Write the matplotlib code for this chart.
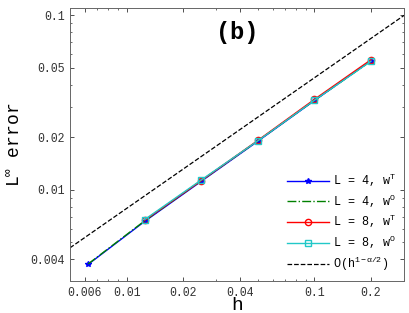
import matplotlib
matplotlib.use("Agg")
import matplotlib.pyplot as plt
from matplotlib.ticker import LogLocator, FixedLocator, FixedFormatter, NullFormatter

# mesh sizes and errors
h4 = [0.00625, 0.0125, 0.025, 0.05, 0.1, 0.2]
err4T = [0.00374, 0.0066, 0.0112, 0.0190, 0.0325, 0.0550]
err4O = [0.00376, 0.00665, 0.0113, 0.0191, 0.0326, 0.0548]
h8 = [0.0125, 0.025, 0.05, 0.1, 0.2]
err8T = [0.0067, 0.0113, 0.0192, 0.0330, 0.0557]
err8O = [0.00676, 0.0114, 0.0191, 0.0326, 0.0546]
ref_h = [0.005, 0.3]
ref_err = [0.00465, 0.1]

xticks = [0.006, 0.01, 0.02, 0.04, 0.1, 0.2]
xticklabels = ["0.006", "0.01", "0.02", "0.04", "0.1", "0.2"]
yticks = [0.004, 0.01, 0.02, 0.05, 0.1]
yticklabels = ["0.004", "0.01", "0.02", "0.05", "0.1"]

mono = "Liberation Mono"
plt.rcParams["mathtext.fontset"] = "custom"
plt.rcParams["mathtext.rm"] = mono
plt.rcParams["mathtext.it"] = mono
plt.rcParams["mathtext.bf"] = mono + ":bold"

fig = plt.figure(figsize=(4.09, 3.13), dpi=100)
ax = fig.add_axes([0.171, 0.102, 0.817, 0.872])

ax.loglog(h4, err4T, color="blue", marker="*", markersize=4, lw=1, label=r"L = 4, w$^{\mathrm{T}}$")
ax.loglog(h4, err4O, color="green", ls="-.", lw=1, label=r"L = 4, w$^{\mathrm{O}}$")
ax.loglog(h8, err8T, color="red", marker="o", markersize=4.5, mfc="none", lw=1, label=r"L = 8, w$^{\mathrm{T}}$")
ax.loglog(h8, err8O, color="#22c8c8", marker="s", markersize=4, mfc="none", lw=1, label=r"L = 8, w$^{\mathrm{O}}$")
ax.loglog(ref_h, ref_err, color="black", ls="--", lw=0.9, label=r"O(h$^{1-\alpha/2}$)")

ax.set_xlim(0.005, 0.3)
ax.set_ylim(0.003, 0.11)

ax.xaxis.set_major_locator(FixedLocator(xticks))
ax.xaxis.set_major_formatter(FixedFormatter(xticklabels))
ax.yaxis.set_major_locator(FixedLocator(yticks))
ax.yaxis.set_major_formatter(FixedFormatter(yticklabels))
ax.xaxis.set_minor_locator(LogLocator(base=10, subs=range(1, 10)))
ax.yaxis.set_minor_locator(LogLocator(base=10, subs=range(1, 10)))
ax.xaxis.set_minor_formatter(NullFormatter())
ax.yaxis.set_minor_formatter(NullFormatter())
ax.tick_params(which="both", direction="in", top=True, right=True, colors="#333333")
ax.tick_params(which="major", length=3, width=0.6, pad=4)
ax.tick_params(which="minor", length=1.5, width=0.5)
for lab in ax.get_xticklabels() + ax.get_yticklabels():
    lab.set_fontfamily(mono)
    lab.set_fontsize(8.3)
    lab.set_color("#333333")
for s in ax.spines.values():
    s.set_color("#666666")
    s.set_linewidth(0.7)

ax.set_xlabel("h", fontfamily=mono, fontsize=14, labelpad=-1)
ax.set_ylabel(r"L$^{\infty}$ error", fontfamily=mono, fontsize=13, labelpad=4)
ax.text(0.5, 0.912, "(b)", transform=ax.transAxes, ha="center", va="center",
        fontfamily=mono, fontweight="bold", fontsize=17)

leg = ax.legend(loc="lower right", frameon=False, prop={"family": mono, "size": 8.5},
                handlelength=3.6, labelspacing=0.3, borderaxespad=0.3, handletextpad=0.3)

fig.savefig("out.png", dpi=100)
